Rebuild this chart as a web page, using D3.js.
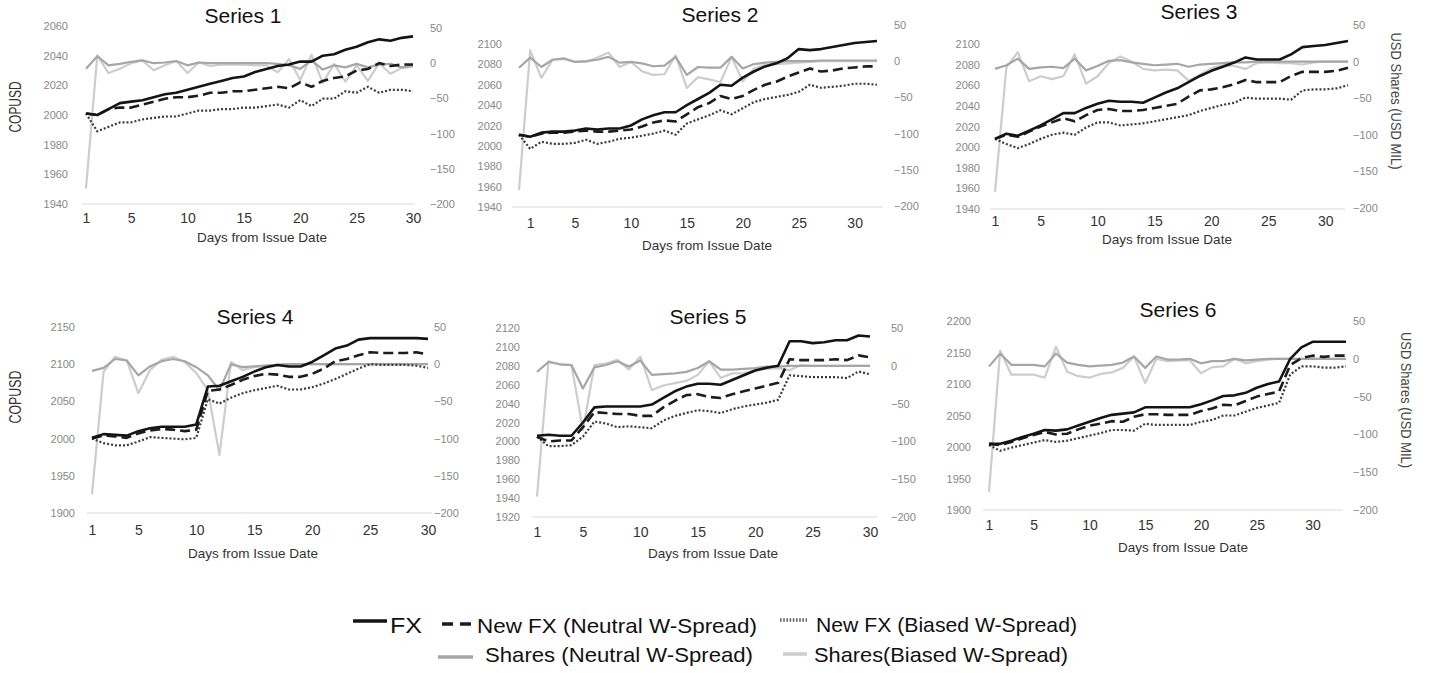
<!DOCTYPE html>
<html><head><meta charset="utf-8">
<script src="https://cdn.jsdelivr.net/npm/d3@7"></script>
<style>
html,body{margin:0;padding:0;background:#fff;}
svg{display:block;font-family:"Liberation Sans",Arial,Helvetica,sans-serif;}
</style>
</head><body>
<svg id="chart" width="1429" height="673"></svg>
<script>
// ---------- DATA ----------
const titles = ["Series 1","Series 2","Series 3","Series 4","Series 5","Series 6"];
const xTickDays = [1,5,10,15,20,25,30];
const rightTicks = [-200,-150,-100,-50,0,50];
const leftTicks1 = [1940,1960,1980,2000,2020,2040,2060];
const leftTicks2 = [1940,1960,1980,2000,2020,2040,2060,2080,2100];
const leftTicks3 = [1940,1960,1980,2000,2020,2040,2060,2080,2100];
const leftTicks4 = [1900,1950,2000,2050,2100,2150];
const leftTicks5 = [1920,1940,1960,1980,2000,2020,2040,2060,2080,2100,2120];
const leftTicks6 = [1900,1950,2000,2050,2100,2150,2200];
const legendLabels = ["FX","New FX  (Neutral W-Spread)","New FX (Biased W-Spread)","Shares (Neutral W-Spread)","Shares(Biased W-Spread)"];
const leftAxisTitle = "COPUSD";
const rightAxisTitle = "USD Shares (USD MIL)";
const xAxisTitle = "Days from Issue Date";

const days1 = [1,2,3,4,5,6,7,8,9,10,11,12,13,14,15,16,17,18,19,20,21,22,23,24,25,26,27,28,29,30];
const fx1 = [2001,2000,2004,2008,2009,2010,2012,2014,2015,2017,2019,2021,2023,2025,2026,2029,2031,2033,2034,2036,2036,2040,2041,2044,2046,2049,2051,2050,2052,2053];
const neutralFx1 = [2001,2000,2004,2005,2005,2007,2009,2011,2012,2012,2013,2015,2015,2016,2016,2017,2018,2019,2018,2022,2019,2023,2025,2026,2030,2031,2035,2033,2034,2034];
const biasedFx1 = [2001,1989,1992,1995,1995,1997,1998,1999,1999,2001,2003,2003,2004,2004,2005,2005,2006,2007,2005,2010,2006,2011,2011,2016,2015,2019,2015,2017,2017,2016];
const neutralShares1 = [-8,10,-3,-1,2,4,0,1,3,-3,1,0,0,0,0,0,0,-1,-3,-8,4,-9,-3,-6,-1,-6,-2,-1,-6,-3];
const biasedShares1 = [-178,11,-14,-8,0,4,-10,-3,3,-14,1,-4,-2,-2,-2,-3,-3,-13,6,-24,12,-28,-1,-26,-3,-25,0,-15,-7,-5];

const days2 = [0,1,2,3,4,5,6,7,8,9,10,11,12,13,14,15,16,17,18,19,20,21,22,23,24,25,26,27,28,29,30,31,32];
const fx2 = [2011,2009,2013,2014,2014,2015,2017,2016,2017,2017,2020,2026,2030,2033,2033,2040,2046,2052,2060,2059,2067,2073,2078,2081,2086,2095,2094,2095,2097,2099,2101,2102,2103];
const neutralFx2 = [2011,2009,2012,2013,2013,2014,2015,2014,2014,2015,2016,2019,2023,2025,2024,2031,2038,2042,2049,2046,2049,2055,2060,2063,2068,2072,2076,2073,2074,2076,2077,2078,2078];
const biasedFx2 = [2011,1997,2004,2002,2002,2003,2006,2002,2004,2007,2008,2010,2012,2015,2011,2022,2026,2030,2035,2031,2037,2043,2046,2048,2050,2053,2060,2057,2058,2059,2061,2061,2060];
const neutralShares2 = [-9,5,-8,2,4,-1,0,2,6,-2,-1,-3,-7,-6,6,-19,-8,-9,-9,6,-10,-4,-2,-1,0,0,0,1,1,1,1,1,1];
const biasedShares2 = [-178,15,-23,2,3,-1,-1,5,12,-8,-1,-14,-19,-18,8,-37,-22,-25,-29,6,-28,-10,-5,-4,-3,-2,-1,0,0,0,0,0,0];

const days3 = [1,2,3,4,5,6,7,8,9,10,11,12,13,14,15,16,17,18,19,20,21,22,23,24,25,26,27,28,29,30,31,32];
const fx3 = [2008,2013,2011,2016,2021,2027,2033,2033,2038,2042,2045,2044,2044,2043,2048,2053,2057,2063,2069,2074,2078,2082,2087,2085,2085,2085,2090,2097,2098,2099,2101,2103];
const neutralFx3 = [2008,2012,2010,2015,2020,2024,2028,2025,2031,2036,2037,2035,2035,2036,2038,2040,2042,2049,2055,2056,2058,2061,2065,2063,2063,2063,2069,2073,2073,2073,2074,2077];
const biasedFx3 = [2008,2003,1999,2003,2008,2012,2014,2012,2019,2024,2024,2021,2022,2023,2025,2027,2029,2031,2035,2038,2041,2043,2048,2047,2047,2047,2046,2055,2056,2056,2057,2060];
const neutralShares3 = [-10,-5,4,-10,-8,-7,-9,4,-12,-6,1,2,-1,-3,-5,-4,-3,-7,-4,-3,-2,-1,-1,0,0,0,0,0,0,0,0,0];
const biasedShares3 = [-178,-8,13,-27,-20,-24,-20,10,-30,-20,-2,7,0,-10,-12,-11,-12,-26,-18,-9,-5,-6,-10,-2,-1,-2,-2,-4,-1,0,0,0];

const days4 = [1,2,3,4,5,6,7,8,9,10,11,12,13,14,15,16,17,18,19,20,21,22,23,24,25,26,27,28,29,30];
const fx4 = [2001,2006,2005,2004,2010,2014,2016,2016,2016,2019,2070,2071,2077,2083,2090,2096,2099,2097,2097,2103,2112,2121,2125,2133,2135,2135,2135,2135,2135,2134];
const neutralFx4 = [2000,2004,2003,2001,2007,2011,2013,2012,2010,2012,2064,2066,2072,2079,2084,2087,2086,2083,2083,2087,2094,2104,2107,2112,2116,2115,2115,2115,2116,2113];
const biasedFx4 = [2000,1994,1991,1991,1996,2002,2001,2000,1999,2001,2053,2047,2055,2061,2065,2068,2071,2066,2066,2069,2074,2080,2087,2094,2100,2099,2099,2099,2098,2095];
const neutralShares4 = [-9,-5,7,5,-15,-3,4,7,4,-4,-15,-35,0,-4,-3,-2,-1,0,0,0,0,0,0,0,0,0,0,0,0,0];
const biasedShares4 = [-175,-10,10,5,-39,-8,6,10,3,-12,-35,-122,3,-8,-4,-2,-1,0,0,0,0,0,0,0,0,0,0,0,0,0];

const days5 = [1,2,3,4,5,6,7,8,9,10,11,12,13,14,15,16,17,18,19,20,21,22,23,24,25,26,27,28,29,30];
const fx5 = [2006,2007,2006,2006,2020,2036,2037,2037,2037,2037,2039,2046,2053,2058,2061,2061,2060,2065,2070,2075,2078,2080,2106,2106,2104,2105,2107,2107,2112,2111];
const neutralFx5 = [2005,2000,2001,2001,2015,2031,2030,2029,2029,2027,2027,2036,2043,2049,2050,2047,2046,2050,2053,2056,2059,2062,2087,2086,2086,2086,2087,2086,2091,2089];
const biasedFx5 = [2005,1995,1995,1996,2005,2021,2019,2015,2016,2015,2014,2022,2027,2030,2033,2032,2030,2034,2037,2039,2041,2044,2070,2069,2068,2068,2068,2067,2074,2071];
const neutralShares5 = [-8,5,2,1,-30,-2,1,6,-1,7,-12,-11,-10,-8,-3,6,-5,-5,-4,-3,-1,-1,0,0,0,0,0,0,0,0];
const biasedShares5 = [-173,6,2,1,-85,1,3,8,-5,12,-32,-26,-23,-20,-12,6,-16,-10,-10,-6,-4,-3,-6,1,0,0,0,0,0,0];

const days6 = [1,2,3,4,5,6,7,8,9,10,11,12,13,14,15,16,17,18,19,20,21,22,23,24,25,26,27,28,29,30,31,32,33];
const fx6 = [2005,2005,2010,2016,2021,2027,2026,2028,2034,2040,2046,2051,2053,2055,2063,2063,2063,2063,2063,2068,2074,2081,2082,2086,2094,2100,2104,2140,2158,2167,2167,2167,2167];
const neutralFx6 = [2005,2003,2008,2014,2019,2024,2020,2021,2028,2034,2037,2041,2040,2048,2052,2052,2051,2051,2051,2057,2061,2067,2066,2073,2080,2084,2088,2130,2141,2145,2143,2145,2145];
const biasedFx6 = [2003,1994,1999,2003,2007,2011,2008,2010,2014,2018,2022,2027,2027,2026,2037,2035,2035,2035,2035,2040,2043,2050,2050,2056,2062,2066,2070,2115,2128,2128,2126,2126,2128];
const neutralShares6 = [-10,7,-8,-8,-8,-10,7,-5,-8,-10,-9,-8,-5,3,-12,3,-1,-1,0,-6,-3,-3,0,-2,-1,0,0,0,0,0,0,0,0];
const biasedShares6 = [-176,11,-21,-21,-21,-25,16,-17,-23,-25,-20,-18,-12,3,-32,0,-3,-2,-2,-19,-11,-10,0,-6,-3,-1,0,0,0,0,0,0,0];

// ---------- ASSEMBLY ----------
const panelData = [
  {days:days1, fx:fx1, nfx:neutralFx1, bfx:biasedFx1, ns:neutralShares1, bs:biasedShares1, leftTicks:leftTicks1},
  {days:days2, fx:fx2, nfx:neutralFx2, bfx:biasedFx2, ns:neutralShares2, bs:biasedShares2, leftTicks:leftTicks2},
  {days:days3, fx:fx3, nfx:neutralFx3, bfx:biasedFx3, ns:neutralShares3, bs:biasedShares3, leftTicks:leftTicks3},
  {days:days4, fx:fx4, nfx:neutralFx4, bfx:biasedFx4, ns:neutralShares4, bs:biasedShares4, leftTicks:leftTicks4},
  {days:days5, fx:fx5, nfx:neutralFx5, bfx:biasedFx5, ns:neutralShares5, bs:biasedShares5, leftTicks:leftTicks5},
  {days:days6, fx:fx6, nfx:neutralFx6, bfx:biasedFx6, ns:neutralShares6, bs:biasedShares6, leftTicks:leftTicks6}
];

// layout (pixel positions, not data)
const layout = [
  {xr:[86,413], yl:[204,26], yr:[204,28], base:[82,415,204], lx:68, rx:430, ty:223, tx:243, tty:23, dx:262, dy:242, leftTitle:[15,107,51]},
  {xr:[519,877], yl:[207,44], yr:[206,25], base:[512,883,207], lx:502, rx:894, ty:228, tx:720, tty:22, dx:707, dy:250},
  {xr:[995,1348], yl:[209,44], yr:[208,25], base:[990,1345,209], lx:980, rx:1353, ty:226, tx:1199, tty:19, dx:1167, dy:244, rightTitle:[1396,101,137]},
  {xr:[92,428], yl:[513,327], yr:[513,327], base:[87,432,513], lx:75, rx:434, ty:535, tx:255, tty:324, dx:253, dy:558, leftTitle:[15,397,53]},
  {xr:[537,870], yl:[517,328], yr:[517,328], base:[532,877,517], lx:520, rx:891, ty:537, tx:708, tty:324, dx:713, dy:558},
  {xr:[989,1346], yl:[510,321], yr:[510,321], base:[983,1342,510], lx:971, rx:1353, ty:530, tx:1178, tty:317, dx:1183, dy:552, rightTitle:[1406,400,136]}
];

const styles = {
  bs:  {stroke:"#cdcdcd", width:2.2, dash:null},
  ns:  {stroke:"#a6a6a6", width:2.2, dash:null},
  bfx: {stroke:"#3a3a3a", width:2.2, dash:"2,2"},
  nfx: {stroke:"#1c1c1c", width:2.6, dash:"10,5"},
  fx:  {stroke:"#141414", width:2.6, dash:null}
};

const svg = d3.select("#chart");

panelData.forEach((p, i) => {
  const L = layout[i];
  const g = svg.append("g");
  const x = d3.scaleLinear().domain(d3.extent(p.days)).range(L.xr);
  const yL = d3.scaleLinear().domain(d3.extent(p.leftTicks)).range(L.yl);
  const yR = d3.scaleLinear().domain(d3.extent(rightTicks)).range(L.yr);

  // baseline
  g.append("line").attr("x1", L.base[0]).attr("x2", L.base[1])
    .attr("y1", L.base[2]).attr("y2", L.base[2])
    .attr("stroke", "#d9d9d9").attr("stroke-width", 1.2);

  // left axis
  const la = g.append("g").attr("transform", `translate(${L.lx},0)`)
    .call(d3.axisLeft(yL).tickValues(p.leftTicks).tickSize(0).tickPadding(0).tickFormat(d3.format("d")));
  la.select(".domain").remove();
  la.selectAll("text").attr("fill", "#888888").style("font-size", "11px");

  // right axis
  const ra = g.append("g").attr("transform", `translate(${L.rx},0)`)
    .call(d3.axisRight(yR).tickValues(rightTicks).tickSize(0).tickPadding(0).tickFormat(d3.format("d")));
  ra.select(".domain").remove();
  ra.selectAll("text").attr("fill", "#888888").style("font-size", "11px");

  // bottom axis
  const ba = g.append("g").attr("transform", `translate(0,${L.ty})`)
    .call(d3.axisBottom(x).tickValues(xTickDays).tickSize(0).tickPadding(0).tickFormat(d3.format("d")));
  ba.select(".domain").remove();
  ba.selectAll("text").attr("y", 0).attr("dy", 0).attr("fill", "#333").style("font-size", "14px");

  // series lines
  const lineL = d3.line().x((d, j) => x(p.days[j])).y(d => yL(d));
  const lineR = d3.line().x((d, j) => x(p.days[j])).y(d => yR(d));
  [["bs", lineR], ["ns", lineR], ["bfx", lineL], ["nfx", lineL], ["fx", lineL]].forEach(([k, gen]) => {
    const s = styles[k];
    g.append("path").datum(p[k]).attr("d", gen)
      .attr("fill", "none").attr("stroke", s.stroke).attr("stroke-width", s.width)
      .attr("stroke-linejoin", "round")
      .attr("stroke-dasharray", s.dash);
  });

  // title
  g.append("text").attr("x", L.tx).attr("y", L.tty).attr("text-anchor", "middle")
    .attr("fill", "#111").style("font-size", "21px").text(titles[i]);

  // x axis title
  g.append("text").attr("x", L.dx).attr("y", L.dy).attr("text-anchor", "middle")
    .attr("fill", "#333").style("font-size", "13.5px").text(xAxisTitle);

  if (L.leftTitle) {
    g.append("text").attr("transform", `translate(${L.leftTitle[0]},${L.leftTitle[1]}) rotate(-90)`)
      .attr("text-anchor", "middle").attr("dy", "0.35em")
      .attr("textLength", L.leftTitle[2]).attr("lengthAdjust", "spacingAndGlyphs")
      .attr("fill", "#333").style("font-size", "17px").text(leftAxisTitle);
  }
  if (L.rightTitle) {
    g.append("text").attr("transform", `translate(${L.rightTitle[0]},${L.rightTitle[1]}) rotate(90)`)
      .attr("text-anchor", "middle").attr("dy", "0.35em")
      .attr("textLength", L.rightTitle[2]).attr("lengthAdjust", "spacingAndGlyphs")
      .attr("fill", "#444").style("font-size", "15px").text(rightAxisTitle);
  }
});

// ---------- LEGEND ----------
const legendLayout = [
  {key:"fx",  sw:[353,387,621], tx:390, ty:633, size:22, len:32},
  {key:"nfx", sw:[442,472,624], tx:477, ty:633, size:21, len:280, dash:"11,7"},
  {key:"bfx", sw:[780,807,620], tx:816, ty:632, size:21, len:261, dash:"1.6,1.6"},
  {key:"ns",  sw:[438,473,657], tx:485, ty:662, size:21, len:268},
  {key:"bs",  sw:[783,807,654], tx:814, ty:662, size:21, len:254}
];
const lg = svg.append("g");
legendLayout.forEach((l, i) => {
  const s = styles[l.key];
  lg.append("line").attr("x1", l.sw[0]).attr("x2", l.sw[1]).attr("y1", l.sw[2]).attr("y2", l.sw[2])
    .attr("stroke", l.key === "bfx" ? "#666" : s.stroke).attr("stroke-width", 3.6)
    .attr("stroke-dasharray", l.dash || null);
  lg.append("text").attr("x", l.tx).attr("y", l.ty)
    .attr("textLength", l.len).attr("lengthAdjust", "spacingAndGlyphs")
    .attr("fill", "#111").style("font-size", l.size + "px").text(legendLabels[i]);
});
</script>
</body></html>
